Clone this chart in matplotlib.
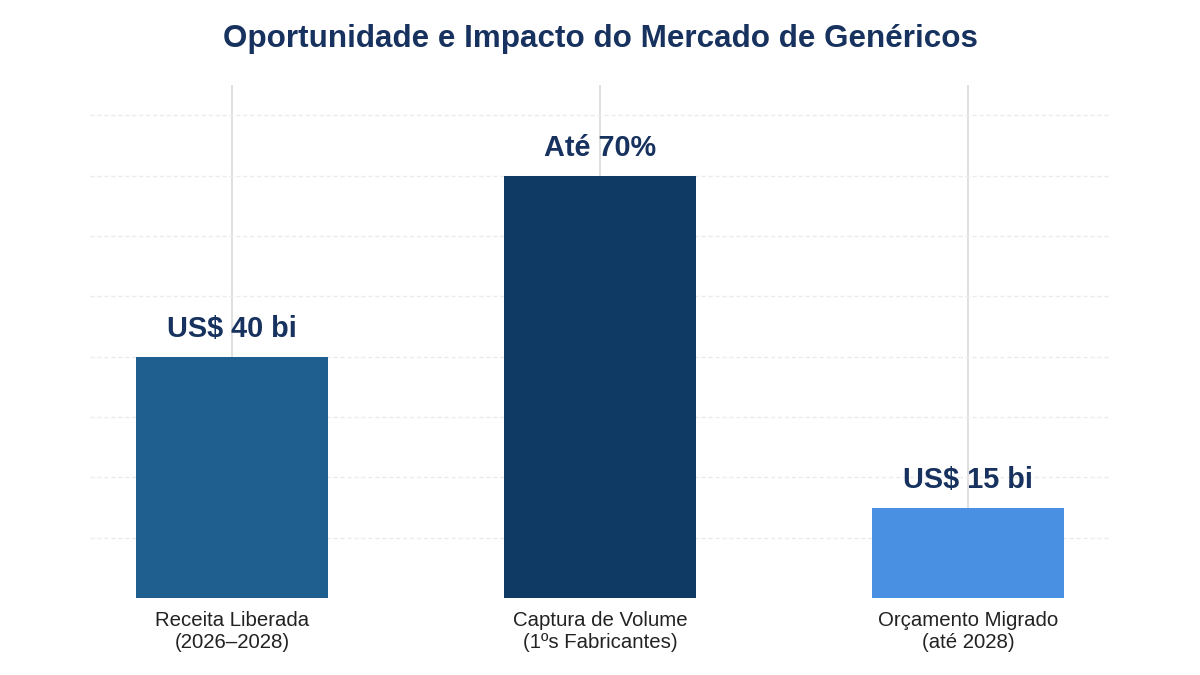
import matplotlib
matplotlib.use("Agg")
import matplotlib.pyplot as plt

categories = ["Receita Liberada\n(2026–2028)", "Captura de Volume\n(1ºs Fabricantes)", "Orçamento Migrado\n(até 2028)"]
values = [40, 70, 15]
value_labels = ["US$ 40 bi", "Até 70%", "US$ 15 bi"]
colors = ["#1f5f8f", "#0e3a63", "#4a90e2"]
title = "Oportunidade e Impacto do Mercado de Genéricos"

plt.rcParams['font.family'] = ['Liberation Sans', 'DejaVu Sans']

fig = plt.figure(figsize=(12, 6.75), dpi=100)
ax = fig.add_axes([0.075, 0.114, 0.85, 0.760])

x = list(range(len(categories)))
bars = ax.bar(x, values, width=0.52, color=colors, zorder=3)

ax.set_xlim(-0.386, 2.386)
ax.set_ylim(0, 85)
ax.set_yticks(range(10, 81, 10))
ax.yaxis.grid(True, color="#ebebeb", linestyle=(0, (3, 2)), linewidth=1, zorder=0)
ax.xaxis.grid(True, color="#d9d9d9", linestyle="-", linewidth=1.2, zorder=0)
ax.set_axisbelow(True)
ax.tick_params(axis="y", left=False, labelleft=False)
ax.tick_params(axis="x", bottom=False, pad=6)
ax.set_xticks(x)
ax.set_xticklabels(categories, fontsize=14.7, color="#222222", linespacing=1.2)
for s in ax.spines.values():
    s.set_visible(False)

for xi, v, lab in zip(x, values, value_labels):
    ax.annotate(lab, (xi, v), xytext=(0, 10), textcoords="offset points",
                ha="center", va="bottom", fontsize=20.8, fontweight="bold", color="#17325e")

fig.text(0.5, 0.942, title, ha="center", va="center", fontsize=22.6,
         fontweight="bold", color="#17325e")

fig.savefig("out.png", dpi=100, facecolor="white")
